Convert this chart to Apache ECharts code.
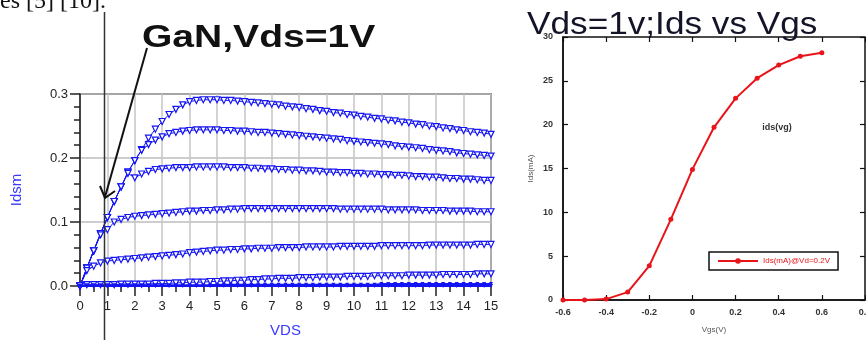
<!DOCTYPE html>
<html>
<head>
<meta charset="utf-8">
<script src="https://cdn.jsdelivr.net/npm/echarts@6/dist/echarts.min.js"></script>
<style>
  html, body { margin: 0; padding: 0; background: #fff; }
  #chart { width: 866px; height: 340px; }
</style>
</head>
<body>
<div id="chart"></div>
<script>
// left panel: Ids vs Vds, one row per volt (x = k, k+.25, k+.5, k+.75)
const vds = [
  0, 0.25, 0.5, 0.75, 1, 1.25, 1.5, 1.75, 2, 2.25, 2.5, 2.75,
  3, 3.25, 3.5, 3.75, 4, 4.25, 4.5, 4.75, 5, 5.25, 5.5, 5.75,
  6, 6.25, 6.5, 6.75, 7, 7.25, 7.5, 7.75, 8, 8.25, 8.5, 8.75,
  9, 9.25, 9.5, 9.75, 10, 10.25, 10.5, 10.75, 11, 11.25, 11.5, 11.75,
  12, 12.25, 12.5, 12.75, 13, 13.25, 13.5, 13.75, 14, 14.25, 14.5, 14.75,
  15
]
const idsA = [
  0, 0.028, 0.055, 0.082,  0.107, 0.132, 0.155, 0.178,  0.196, 0.213, 0.231, 0.245,
  0.257, 0.268, 0.276, 0.283,  0.288, 0.290, 0.291, 0.291,  0.291, 0.290, 0.290, 0.289,
  0.288, 0.287, 0.286, 0.285,  0.284, 0.283, 0.281, 0.280,  0.279, 0.277, 0.276, 0.274,
  0.273, 0.271, 0.270, 0.268,  0.267, 0.265, 0.264, 0.262,  0.261, 0.259, 0.258, 0.256,
  0.255, 0.253, 0.252, 0.250,  0.249, 0.247, 0.246, 0.244,  0.243, 0.241, 0.240, 0.239,
  0.237
]
const idsB = [
  0, 0.028, 0.055, 0.082,  0.107, 0.132, 0.155, 0.178,  0.196, 0.212, 0.221, 0.228,
  0.233, 0.238, 0.240, 0.242,  0.243, 0.244, 0.244, 0.244,  0.244, 0.243, 0.243, 0.242,
  0.242, 0.241, 0.240, 0.240,  0.239, 0.238, 0.237, 0.236,  0.235, 0.234, 0.233, 0.232,
  0.231, 0.230, 0.229, 0.227,  0.226, 0.225, 0.224, 0.223,  0.222, 0.221, 0.219, 0.218,
  0.217, 0.216, 0.215, 0.213,  0.212, 0.211, 0.210, 0.208,  0.207, 0.206, 0.205, 0.204,
  0.203
]
const idsC = [
  0, 0.028, 0.055, 0.082,  0.107, 0.132, 0.155, 0.176,  0.169, 0.175, 0.179, 0.182,
  0.183, 0.184, 0.185, 0.185,  0.185, 0.186, 0.186, 0.186,  0.186, 0.186, 0.185, 0.185,
  0.185, 0.184, 0.184, 0.183,  0.183, 0.182, 0.182, 0.181,  0.181, 0.180, 0.180, 0.179,
  0.178, 0.178, 0.177, 0.177,  0.176, 0.176, 0.175, 0.175,  0.174, 0.174, 0.173, 0.173,
  0.172, 0.171, 0.171, 0.170,  0.170, 0.169, 0.168, 0.168,  0.167, 0.167, 0.166, 0.165,
  0.165
]
const idsD = [
  0, 0.028, 0.055, 0.080,  0.088, 0.100, 0.104, 0.107,  0.109, 0.110, 0.111, 0.112,
  0.113, 0.114, 0.115, 0.116,  0.117, 0.117, 0.118, 0.118,  0.119, 0.119, 0.120, 0.120,
  0.121, 0.121, 0.121, 0.121,  0.121, 0.121, 0.121, 0.121,  0.121, 0.121, 0.121, 0.121,
  0.121, 0.121, 0.120, 0.120,  0.120, 0.120, 0.120, 0.120,  0.120, 0.119, 0.119, 0.119,
  0.119, 0.119, 0.118, 0.118,  0.118, 0.118, 0.117, 0.117,  0.117, 0.117, 0.116, 0.116,
  0.116
]
const idsE = [
  0, 0.024, 0.031, 0.036,  0.039, 0.040, 0.041, 0.042,  0.043, 0.044, 0.045, 0.046,
  0.047, 0.048, 0.049, 0.050,  0.052, 0.053, 0.054, 0.055,  0.056, 0.056, 0.057, 0.057,
  0.058, 0.058, 0.059, 0.059,  0.059, 0.060, 0.060, 0.060,  0.060, 0.061, 0.061, 0.061,
  0.061, 0.061, 0.062, 0.062,  0.062, 0.062, 0.062, 0.062,  0.063, 0.063, 0.063, 0.063,
  0.063, 0.063, 0.063, 0.064,  0.064, 0.064, 0.064, 0.064,  0.064, 0.064, 0.065, 0.065,
  0.065
]
const idsF = [
  0, 0.002, 0.002, 0.002,  0.002, 0.002, 0.003, 0.003,  0.003, 0.003, 0.003, 0.004,
  0.004, 0.004, 0.005, 0.005,  0.006, 0.006, 0.006, 0.007,  0.007, 0.008, 0.008, 0.009,
  0.009, 0.010, 0.010, 0.011,  0.011, 0.012, 0.012, 0.012,  0.013, 0.013, 0.013, 0.014,
  0.014, 0.014, 0.014, 0.015,  0.015, 0.015, 0.015, 0.016,  0.016, 0.016, 0.016, 0.016,
  0.017, 0.017, 0.017, 0.017,  0.017, 0.018, 0.018, 0.018,  0.018, 0.018, 0.019, 0.019,
  0.019
]
const idsG = [
  0, 0.001, 0.001, 0.001,  0.001, 0.001, 0.001, 0.001,  0.001, 0.001, 0.001, 0.001,
  0.001, 0.001, 0.001, 0.001,  0.001, 0.001, 0.001, 0.001,  0.002, 0.002, 0.002, 0.002,
  0.002, 0.002, 0.002, 0.002,  0.002, 0.002, 0.002, 0.002,  0.002, 0.002, 0.002, 0.002,
  0.002, 0.002, 0.002, 0.002,  0.002, 0.002, 0.002, 0.002,  0.003, 0.003, 0.003, 0.003,
  0.003, 0.003, 0.003, 0.003,  0.003, 0.003, 0.003, 0.003,  0.003, 0.003, 0.003, 0.003,
  0.003
]
const idsH = [
  0, 0, 0, 0,  0, 0, 0, 0,  0, 0, 0, 0,  0, 0, 0, 0,  0, 0, 0, 0,
  0, 0, 0, 0,  0, 0, 0, 0,  0, 0, 0, 0,  0, 0, 0, 0,  0, 0, 0, 0,
  0, 0, 0, 0,  0, 0, 0, 0,  0, 0, 0, 0,  0, 0, 0, 0,  0, 0, 0, 0,
  0
]

// right panel: Ids(mA) vs Vgs at Vd=0.2V
const vgs = [-0.6, -0.5, -0.4, -0.3, -0.2, -0.1, 0, 0.1, 0.2, 0.3, 0.4, 0.5, 0.6]
const idsMa = [0, 0, 0.1, 0.9, 3.9, 9.2, 14.9, 19.7, 23.0, 25.3, 26.8, 27.8, 28.2]

const BLUE = '#1414f5'
const RED = '#e8141a'
const FONT = 'Liberation Sans, Arial, sans-serif'

const chart = echarts.init(document.getElementById('chart'), null, { renderer: 'canvas' })

const curveSeries = (data, bottom) => ({
  type: 'line',
  xAxisIndex: 0,
  yAxisIndex: 0,
  data: vds.map((v, i) => [v, data[i]]),
  showAllSymbol: true,
  symbol: 'triangle',
  symbolRotate: 180,
  symbolSize: bottom ? 4 : 6,
  itemStyle: bottom
    ? { color: BLUE }
    : { color: '#fff', borderColor: BLUE, borderWidth: 1.2 },
  lineStyle: { color: BLUE, width: bottom ? 2 : 1 },
  emphasis: { disabled: true },
  z: 3
})

// mirrored axes on the right panel: ticks only, inside the box
const mirrorTick = { show: true, inside: true, length: 5, lineStyle: { color: '#111', width: 1.2 } }

const option = {
  animation: false,
  backgroundColor: '#fff',
  grid: [
    {
      left: 80, right: 375, top: 94, bottom: 54, outerBoundsMode: 'none',
      show: true, borderColor: '#333', borderWidth: 1.5
    },
    {
      left: 563, right: 1, top: 37, bottom: 40, outerBoundsMode: 'none',
      show: true, borderColor: '#111', borderWidth: 1.5
    }
  ],
  xAxis: [
    {
      gridIndex: 0,
      type: 'value',
      min: 0,
      max: 15,
      interval: 1,
      name: 'VDS',
      nameLocation: 'middle',
      nameGap: 37,
      nameTextStyle: { color: '#3a3aff', fontSize: 15, fontFamily: FONT },
      axisLine: { show: false, onZero: false },
      axisTick: { show: true, length: 10, lineStyle: { color: '#222', width: 1.5 } },
      minorTick: { show: true, splitNumber: 2, length: 6, lineStyle: { color: '#222', width: 1.5 } },
      axisLabel: { color: '#222', fontSize: 13, fontFamily: FONT, margin: 14 },
      splitLine: { show: true, lineStyle: { color: '#c4c4c4', width: 1.5 } }
    },
    {
      gridIndex: 1,
      type: 'value',
      min: -0.6,
      max: 0.8,
      interval: 0.2,
      name: 'Vgs(V)',
      nameLocation: 'middle',
      nameGap: 26,
      nameTextStyle: { color: '#555', fontSize: 8, fontFamily: FONT },
      axisLine: { show: true, onZero: false, lineStyle: { color: '#111', width: 1.5 } },
      axisTick: mirrorTick,
      axisLabel: {
        color: '#333', fontSize: 9, fontWeight: 'bold', fontFamily: FONT, margin: 8,
        formatter: v => String(Math.round(v * 10) / 10)
      },
      splitLine: { show: false }
    },
    {
      gridIndex: 1,
      type: 'value',
      position: 'top',
      min: -0.6,
      max: 0.8,
      interval: 0.2,
      axisLine: { show: false, onZero: false },
      axisTick: mirrorTick,
      axisLabel: { show: false },
      splitLine: { show: false }
    }
  ],
  yAxis: [
    {
      gridIndex: 0,
      type: 'value',
      min: 0,
      max: 0.3,
      interval: 0.1,
      name: 'Idsm',
      nameLocation: 'middle',
      nameGap: 56,
      nameTextStyle: { color: '#3a3aff', fontSize: 15, fontFamily: FONT },
      axisLine: { show: true, onZero: false, lineStyle: { color: '#222', width: 1.5 } },
      axisTick: { show: true, length: 10, lineStyle: { color: '#222', width: 1.5 } },
      minorTick: { show: true, splitNumber: 5, length: 6, lineStyle: { color: '#222', width: 1.5 } },
      axisLabel: { color: '#222', fontSize: 13, fontFamily: FONT, margin: 12, formatter: v => v.toFixed(1) },
      splitLine: { show: true, lineStyle: { color: '#bdbdbd', width: 1.5 } }
    },
    {
      gridIndex: 1,
      type: 'value',
      min: 0,
      max: 30,
      interval: 5,
      name: 'Ids(mA)',
      nameLocation: 'middle',
      nameGap: 28,
      nameTextStyle: { color: '#555', fontSize: 8, fontFamily: FONT },
      axisLine: { show: true, onZero: false, lineStyle: { color: '#111', width: 1.5 } },
      axisTick: mirrorTick,
      axisLabel: { color: '#333', fontSize: 9, fontWeight: 'bold', fontFamily: FONT, margin: 10 },
      splitLine: { show: false }
    },
    {
      gridIndex: 1,
      type: 'value',
      position: 'right',
      min: 0,
      max: 30,
      interval: 5,
      axisLine: { show: false, onZero: false },
      axisTick: mirrorTick,
      axisLabel: { show: false },
      splitLine: { show: false }
    }
  ],
  legend: {
    data: ['Ids(mA)@Vd=0.2V'],
    left: 709,
    top: 252,
    orient: 'horizontal',
    padding: [5, 8],
    itemWidth: 40,
    itemHeight: 7,
    itemGap: 4,
    borderColor: '#111',
    borderWidth: 1.5,
    textStyle: { color: RED, fontSize: 8, fontFamily: FONT }
  },
  series: [
    curveSeries(idsA),
    curveSeries(idsB),
    curveSeries(idsC),
    curveSeries(idsD),
    curveSeries(idsE),
    curveSeries(idsF),
    curveSeries(idsG, true),
    curveSeries(idsH, true),
    {
      name: 'Ids(mA)@Vd=0.2V',
      type: 'line',
      xAxisIndex: 1,
      yAxisIndex: 1,
      data: vgs.map((v, i) => [v, idsMa[i]]),
      symbol: 'circle',
      symbolSize: 5,
      itemStyle: { color: RED },
      lineStyle: { color: RED, width: 2 },
      emphasis: { disabled: true },
      z: 3
    }
  ],
  graphic: [
    // text of the page the figure was cut from
    {
      type: 'text', left: 0, top: -10, z: 10,
      style: { text: 'es [5] [10].', font: '24px "Liberation Serif", serif', fill: '#111' }
    },
    {
      type: 'text', x: 142, y: 38, scaleX: 1.22, z: 10,
      style: {
        text: 'GaN,Vds=1V', font: 'bold 32px "Liberation Sans", Arial, sans-serif',
        fill: '#111', verticalAlign: 'middle', align: 'left'
      }
    },
    {
      type: 'text', x: 527, y: 25, scaleX: 1.135, z: 10,
      style: {
        text: 'Vds=1v;Ids vs Vgs', font: '31px "Liberation Sans", Arial, sans-serif',
        fill: '#141428', verticalAlign: 'middle', align: 'left'
      }
    },
    {
      type: 'text', x: 777, y: 128, z: 10,
      style: {
        text: 'ids(vg)', font: 'bold 9px "Liberation Sans", Arial, sans-serif',
        fill: '#333', verticalAlign: 'middle', align: 'center'
      }
    },
    // annotation: vertical marker and arrow
    {
      type: 'line', z: 10,
      shape: { x1: 104.5, y1: 12, x2: 104.5, y2: 340 },
      style: { stroke: '#333', lineWidth: 1.5 }
    },
    {
      type: 'line', z: 10,
      shape: { x1: 147, y1: 48, x2: 105, y2: 197 },
      style: { stroke: '#111', lineWidth: 2 }
    },
    {
      type: 'polyline', z: 10,
      shape: { points: [[100, 186], [105, 198], [115, 191]] },
      style: { stroke: '#111', lineWidth: 2, fill: null }
    }
  ]
}

chart.setOption(option)
</script>
</body>
</html>
